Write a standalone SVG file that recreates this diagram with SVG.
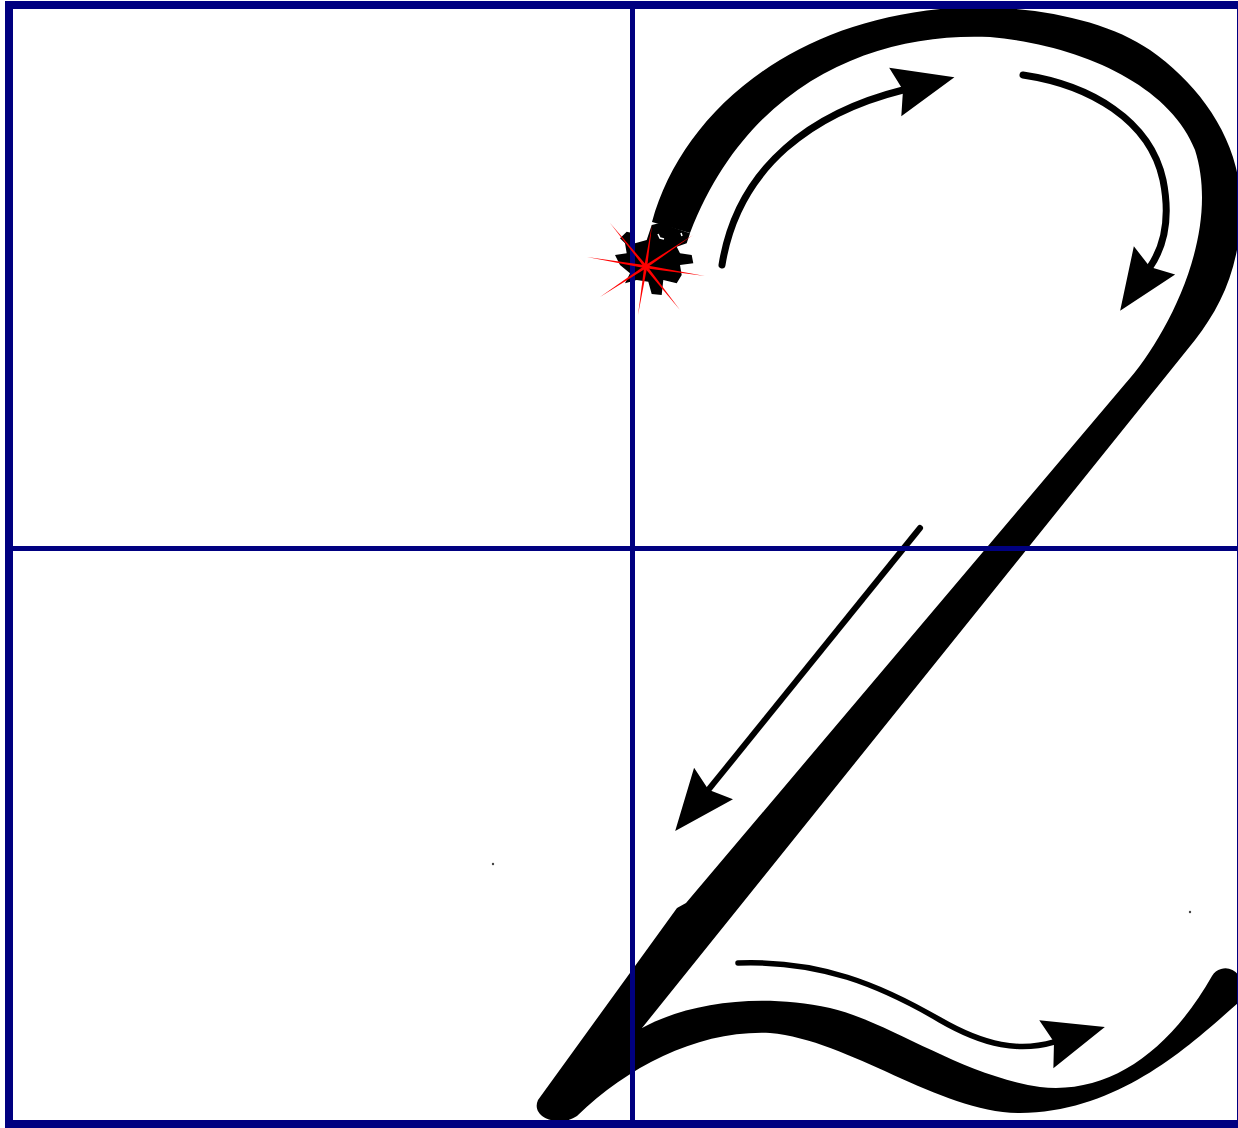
<svg xmlns="http://www.w3.org/2000/svg" width="1238" height="1128" viewBox="0 0 1238 1128">
  <style>
    .ink { fill: #000; }
    .shaft { fill: none; stroke: #000; stroke-linecap: round; stroke-linejoin: round; marker-end: url(#head); }
    .grid { stroke: #000080; stroke-width: 5; fill: none; }
    .frame { stroke: #000080; stroke-width: 8; fill: none; }
    .ray { fill: #ff0000; }
  </style>
  <defs>
    <marker id="head" markerUnits="userSpaceOnUse" markerWidth="62" markerHeight="50" refX="8" refY="25" orient="auto" overflow="visible">
      <path d="M0,0 L61,25 L0,50 L8,25 Z" fill="#000"/>
    </marker>
  </defs>
  <rect x="0" y="0" width="1238" height="1128" fill="#fff"/>

  <g id="numeral">
    <path class="ink" d="M652,222 C680,120 780,25 940,9 C1010,2 1100,15 1150,50 C1200,85 1240,140 1241,205 C1241,265 1222,305 1195,340 L642,1028 C690,1002 760,993 830,1008 C890,1022 960,1075 1040,1087 C1110,1095 1170,1050 1212,976 A15.7,15.7 0 0 1 1240,990 L1238,1003 C1190,1045 1120,1112 1020,1113 C940,1113 850,1040 770,1033 C700,1030 630,1065 577,1116 C560,1128 530,1118 538,1100 L677,908 L686,903 L1125,384 C1165,340 1222,235 1195,150 C1170,85 1080,45 990,37 C880,32 750,78 690,233 Z"/>
  </g>

  <g id="start-blob">
    <polygon class="ink" points="626.7,231.7 633.3,233.3 635,243.3 646.7,240 651.7,225 660,223 690,233.3 686.7,243.3 676.7,246.7 680,253.3 691.7,255 693.3,263.3 680,265 681.7,275 676.7,283.3 663.3,280 661.7,295 651.7,294 648.3,281.7 636.7,280 625,283.3 630,273.3 620,265 615,255 626.7,253.3 625,243.3 620,238.3"/>
    <path d="M658,234 L660,238 L664,239 M681,233 L682,236" stroke="#fff" stroke-width="1.5" fill="none"/>
  </g>

  <g id="arrows">
    <path id="arrow-top-left" class="shaft" stroke-width="7" d="M722,265 C738,165 815,112 903,90"/>
    <path id="arrow-top-right" class="shaft" stroke-width="7" d="M1023,75 C1090,85 1150,120 1163,180 C1170,215 1165,245 1150,267"/>
    <path id="arrow-diagonal" class="shaft" stroke-width="6" d="M920,528 L708.5,789.7"/>
    <path id="arrow-bottom" class="shaft" stroke-width="5.5" d="M738,963 C820,960 880,985 940,1020 C985,1046 1020,1052 1054,1042"/>
  </g>

  <g id="specks" fill="#444">
    <circle cx="493" cy="864" r="1.2"/>
    <circle cx="1190" cy="912" r="1.2"/>
  </g>

  <g id="grid">
    <line class="grid" x1="632.5" y1="5" x2="632.5" y2="1124"/>
    <line class="grid" x1="9" y1="548.5" x2="1241" y2="548.5"/>
    <rect class="frame" x="9" y="5" width="1232" height="1119"/>
  </g>

  <g id="start-star">
    <polygon class="ray" points="610,223 646.87,265.76 680,310 644.53,267.64"/>
    <polygon class="ray" points="587,257 645.94,265.22 705,276 645.46,268.18"/>
    <polygon class="ray" points="600,297 646.53,267.95 693,235 644.87,265.45"/>
    <polygon class="ray" points="638,315 647.18,266.93 652,225 644.22,266.47"/>
  </g>
</svg>
